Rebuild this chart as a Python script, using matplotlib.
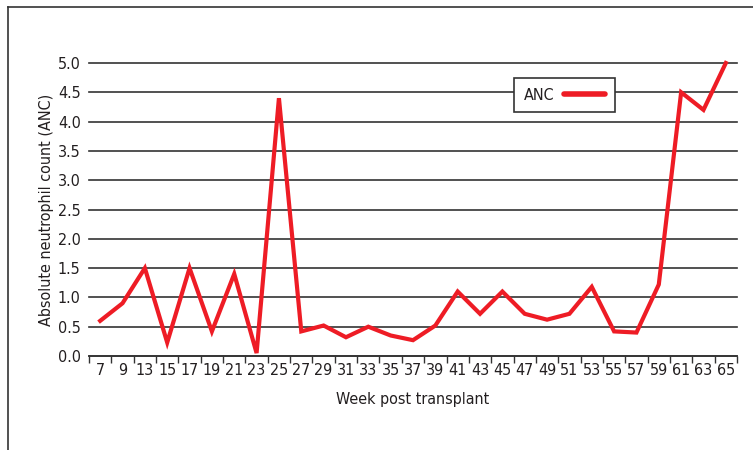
import matplotlib.pyplot as plt
from matplotlib.lines import Line2D
import numpy as np

plt.rcParams['font.family'] = ['DejaVu Sans']
plt.rcParams['font.stretch'] = 'condensed'

# Data
weeks = ['7', '9', '13', '15', '17', '19', '21', '23', '25', '27', '29', '31', '33', '35', '37',
         '39', '41', '43', '45', '47', '49', '51', '53', '55', '57', '59', '61', '63', '65']
anc = [0.6, 0.9, 1.5, 0.23, 1.5, 0.42, 1.4, 0.05, 4.4, 0.42, 0.52, 0.32, 0.5, 0.35, 0.27,
       0.52, 1.1, 0.72, 1.1, 0.72, 0.62, 0.72, 1.18, 0.42, 0.4, 1.22, 4.5, 4.2, 5.0]
yticks = [0.0, 0.5, 1.0, 1.5, 2.0, 2.5, 3.0, 3.5, 4.0, 4.5, 5.0]

fig = plt.figure(figsize=(7.53, 4.5), dpi=100)
ax = fig.add_axes([89 / 753, 1 - 356 / 450, (737 - 89) / 753, (356 - 63) / 450])

x = np.arange(len(weeks))
ax.plot(x, anc, color='#ee1c25', linewidth=3, solid_joinstyle='miter', clip_on=False, zorder=3, label='ANC')

ax.set_xlim(-0.5, len(weeks) - 0.5)
ax.set_ylim(0, 5.0)
ax.set_yticks(yticks)
ax.set_yticklabels([f'{v:.1f}' for v in yticks], fontsize=11.5, color='#231f20')
ax.set_xticks(x)
ax.set_xticklabels(weeks, fontsize=11.5, color='#231f20')
ax.set_xticks(np.arange(-0.5, len(weeks)), minor=True)
ax.tick_params(axis='x', which='major', length=0, pad=5)
ax.tick_params(axis='x', which='minor', length=5, width=1, color='#333333')
ax.tick_params(axis='y', length=0, pad=6)

ax.grid(axis='y', color='#333333', linewidth=1.2)
for gl in ax.yaxis.get_gridlines():
    gl.set_clip_on(False)
ax.set_axisbelow(True)
for s in ['top', 'right', 'left']:
    ax.spines[s].set_visible(False)
ax.spines['bottom'].set_color('#333333')
ax.spines['bottom'].set_linewidth(1.2)

ax.set_xlabel('Week post transplant', fontsize=11.5, labelpad=10, color='#231f20')
ax.set_ylabel('Absolute neutrophil count (ANC)', fontsize=11.5, labelpad=3, color='#231f20')

leg = ax.legend(loc='upper left', bbox_to_anchor=((514 - 89) / 648, 1 - (78 - 63) / 293),
                fontsize=11.5, markerfirst=False, fancybox=False, framealpha=1,
                edgecolor='#333333', handlelength=2.6, borderpad=0.6, borderaxespad=0,
                handletextpad=0.6)
leg.get_frame().set_linewidth(1.2)
for t in leg.get_texts():
    t.set_color('#231f20')
leg.get_lines()[0].set_solid_capstyle('round')
leg.get_lines()[0].set_linewidth(4)

# outer frame (top and left edge)
fig.add_artist(Line2D([8 / 753, 1], [1 - 7 / 450, 1 - 7 / 450], color='#333333', linewidth=1.2))
fig.add_artist(Line2D([8 / 753, 8 / 753], [0, 1 - 7 / 450], color='#333333', linewidth=1.2))

fig.savefig('out.png', dpi=100)
